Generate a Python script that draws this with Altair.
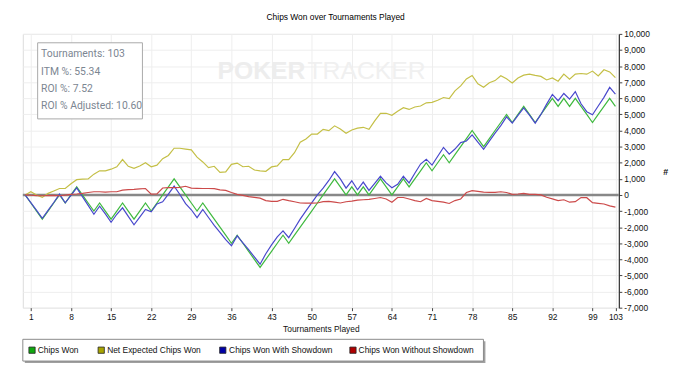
import altair as alt
import pandas as pd

# ---------------- data ----------------
SERIES = ["Chips Won", "Net Expected Chips Won", "Chips Won With Showdown", "Chips Won Without Showdown"]
TOURNAMENTS = list(range(0, 104))

CHIPS_WON = [
    0, -500, -1000, -1500, -1000, -500, 0, -500, 0, 500,
    0, -500, -1000, -500, -1000, -1500, -1000, -500, -1000, -1500,
    -1000, -500, -1000, -500, 0, 500, 1000, 500, 0, -500,
    -1000, -500, -1000, -1500, -2000, -2500, -3000, -2500, -3000, -3500,
    -4000, -4500, -4000, -3500, -3000, -2500, -3000, -2500, -2000, -1500,
    -1000, -500, 0, 500, 1000, 500, 0, 500, 0, 500,
    0, 500, 1000, 500, 0, 500, 1000, 500, 1000, 1500,
    2000, 1500, 2000, 2500, 2000, 2500, 3000, 3500, 4000, 3500,
    3000, 3500, 4000, 4500, 5000, 4500, 5000, 5500, 5000, 4500,
    5000, 5500, 6000, 5500, 6000, 5500, 6000, 5500, 5000, 4500,
    5000, 5500, 6000, 5500,
]

NET_EXPECTED = [
    0, 200, 0, -150, 100, 250, 400, 400, 700, 950,
    980, 990, 1290, 1500, 1500, 1600, 1750, 2200, 1780, 1650,
    1800, 2000, 1750, 1850, 2250, 2450, 2900, 2900, 2850, 2800,
    2350, 2050, 1700, 1780, 1400, 1430, 1900, 1980, 1750, 1780,
    1550, 1500, 1470, 1740, 1800, 2190, 2190, 2620, 3270, 3480,
    3780, 3780, 4070, 3990, 4290, 4090, 3830, 4030, 4150, 4200,
    4080, 4600, 5070, 5070, 4950, 5200, 5420, 5310, 5460, 5520,
    5720, 5750, 5880, 6050, 5980, 6460, 6770, 7200, 7420, 6900,
    6690, 6970, 7100, 7400, 7210, 6950, 7260, 7440, 7500, 7420,
    7360, 7140, 7260, 7060, 7500, 7190, 7500, 7540, 7500, 7690,
    7390, 7770, 7640, 7280,
]

WITH_SHOWDOWN = [
    0, -480, -960, -1450, -960, -470, 50, -490, -30, 440,
    -100, -650, -1200, -700, -1180, -1700, -1200, -800, -1330, -1850,
    -1380, -900, -1050, -560, -430, 50, 550, 30, -540, -920,
    -1410, -900, -1400, -1890, -2320, -2780, -3150, -2540, -2970, -3400,
    -3850, -4300, -3650, -3100, -2600, -2230, -2650, -2080, -1500, -990,
    -490, 0, 420, 900, 1450, 1000, 420, 880, 320, 800,
    280, 720, 1160, 750, 450, 660, 1160, 750, 1350, 1920,
    2220, 1850, 2400, 2950, 2530, 2850, 3250, 3350, 3730, 3280,
    2830, 3340, 3840, 4300, 4850, 4460, 4940, 5400, 4960, 4460,
    5000, 5640, 6240, 5850, 6300, 5950, 6420, 5660, 5170, 4980,
    5520, 6060, 6680, 6260,
]

WITHOUT_SHOWDOWN = [
    0, -20, -40, -50, -40, -30, -50, -10, 30, 60,
    100, 150, 200, 200, 180, 200, 200, 300, 330, 350,
    380, 400, 50, 60, 430, 450, 450, 470, 540, 420,
    410, 400, 400, 390, 320, 280, 150, 40, -30, -100,
    -150, -200, -350, -400, -400, -270, -350, -420, -500, -510,
    -510, -500, -420, -400, -450, -500, -420, -380, -320, -300,
    -280, -220, -160, -250, -450, -160, -160, -250, -350, -420,
    -220, -350, -400, -450, -530, -350, -250, 150, 270, 220,
    170, 160, 160, 200, 150, 40, 60, 100, 40, 40,
    0, -140, -240, -350, -300, -450, -420, -160, -170, -480,
    -520, -560, -680, -760,
]

X_TICKS = [1, 8, 15, 22, 29, 36, 43, 50, 57, 64, 71, 78, 85, 92, 99, 103]
Y_TICKS = list(range(-7000, 10001, 1000))
STATS = ["Tournaments: 103", "ITM %: 55.34", "ROI %: 7.52", "ROI % Adjusted: 10.60"]
TITLE = "Chips Won over Tournaments Played"
X_TITLE = "Tournaments Played"
Y_TITLE = "#"
WATERMARK = ["POKER", "TRACKER"]

# ---------------- styles / layout ----------------
LINE_COLORS = ["#3fb93f", "#c4bf46", "#4848cc", "#cc4a4a"]
SWATCH_COLORS = ["#10a810", "#a8a400", "#0000a8", "#b00000"]
FONT = "Liberation Sans"
W, H = 603, 277

rows = []
for name, vals in zip(SERIES, [CHIPS_WON, NET_EXPECTED, WITH_SHOWDOWN, WITHOUT_SHOWDOWN]):
    for t, v in zip(TOURNAMENTS, vals):
        rows.append({"t": t, "v": v, "series": name})
df = pd.DataFrame(rows)
one = pd.DataFrame({"a": [0]})

x_scale = alt.Scale(domain=[-0.4, 103.6], nice=False, zero=False)
y_scale = alt.Scale(domain=[-7000, 10000], nice=False, zero=False)

x_axis = alt.Axis(
    values=X_TICKS, title=X_TITLE, grid=True, gridColor="#eeeeee", domain=False,
    tickColor="#444444", tickSize=3, labelPadding=2, labelFont=FONT, labelFontSize=8.5,
    labelColor="#111111", labelFlush=False, labelOverlap=False,
    titleFont=FONT, titleFontSize=8.5, titleFontWeight="normal", titleColor="#111111",
    titleY=21, titleBaseline="middle",
)
y_axis = alt.Axis(
    orient="right", values=Y_TICKS, title=Y_TITLE, grid=True, gridColor="#eeeeee",
    labelExpr="replace(format(datum.value, ',.0f'), '\u2212', '-')",
    domain=True, domainColor="#333333", domainWidth=1.2, tickColor="#444444", tickSize=3,
    labelPadding=2, labelFont=FONT, labelFontSize=8.5, labelColor="#111111", labelOverlap=False,
    titleFont=FONT, titleFontSize=9, titleFontWeight="bold", titleColor="#111111",
    titleAngle=0, titleX=47, titleY=139, titleAlign="center", titleBaseline="middle",
)

layers = []

# watermark
layers.append(alt.Chart(one).mark_text(text=WATERMARK[0], font=FONT, fontSize=25, fontWeight="bold",
                                        color="#ededed", align="left", baseline="alphabetic")
              .encode(x=alt.value(197), y=alt.value(46)))
layers.append(alt.Chart(one).mark_text(text=WATERMARK[1], font=FONT, fontSize=25, fontWeight="normal",
                                        color="#f0f0f0", align="left", baseline="alphabetic")
              .encode(x=alt.value(288), y=alt.value(46)))

# zero line
layers.append(alt.Chart(pd.DataFrame({"zero": [0]})).mark_rule(color="#888888", strokeWidth=2.5)
              .encode(y=alt.Y("zero:Q", scale=y_scale, axis=y_axis)))

# series lines
layers.append(alt.Chart(df).mark_line(strokeWidth=1.2).encode(
    x=alt.X("t:Q", scale=x_scale, axis=x_axis),
    y=alt.Y("v:Q", scale=y_scale, axis=y_axis),
    color=alt.Color("series:N", scale=alt.Scale(domain=SERIES, range=LINE_COLORS), legend=None),
    detail="series:N",
))

# stats box
layers.append(alt.Chart(one).mark_rect(fill="white", stroke="#a9a9a9", strokeWidth=1)
              .encode(x=alt.value(15), x2=alt.value(121), y=alt.value(9), y2=alt.value(86)))
for i, s in enumerate(STATS):
    layers.append(alt.Chart(one).mark_text(text=s, font="Roboto", fontSize=10.5, color="#7c8692",
                                            align="left", baseline="middle")
                  .encode(x=alt.value(18.5), y=alt.value(20.5 + i * 17.6)))

# legend
layers.append(alt.Chart(one).mark_rect(fill="#a0a0a0")
              .encode(x=alt.value(2), x2=alt.value(468), y=alt.value(311), y2=alt.value(333)))
layers.append(alt.Chart(one).mark_rect(fill="white", stroke="#8a8a8a", strokeWidth=1)
              .encode(x=alt.value(0), x2=alt.value(466), y=alt.value(309), y2=alt.value(331)))
SWATCH_X = [9.3, 79.3, 202.3, 334.0]
LABEL_X = [15, 85.3, 208.7, 339.7]
for name, col, sx, lx in zip(SERIES, SWATCH_COLORS, SWATCH_X, LABEL_X):
    layers.append(alt.Chart(one).mark_square(size=40, fill=col, stroke="#222222", strokeWidth=0.8, opacity=1)
                  .encode(x=alt.value(sx), y=alt.value(320)))
    layers.append(alt.Chart(one).mark_text(text=name, font=FONT, fontSize=8.5, color="#111111",
                                            align="left", baseline="middle")
                  .encode(x=alt.value(lx), y=alt.value(320)))

chart = alt.layer(*layers).properties(
    width=W, height=H,
    padding={"left": 15, "top": 24, "right": 74, "bottom": 74},
    autosize=alt.AutoSizeParams(type="none"),
    title=alt.TitleParams(text=TITLE, font=FONT, fontSize=8.5, fontWeight="normal", color="#000000",
                          anchor="middle", dx=15, offset=0, baseline="bottom"),
).configure_view(stroke="#6e6e6e", strokeWidth=1.5).configure(background="white")

chart.save("out.html", embed_options={"renderer": "svg", "actions": False})
